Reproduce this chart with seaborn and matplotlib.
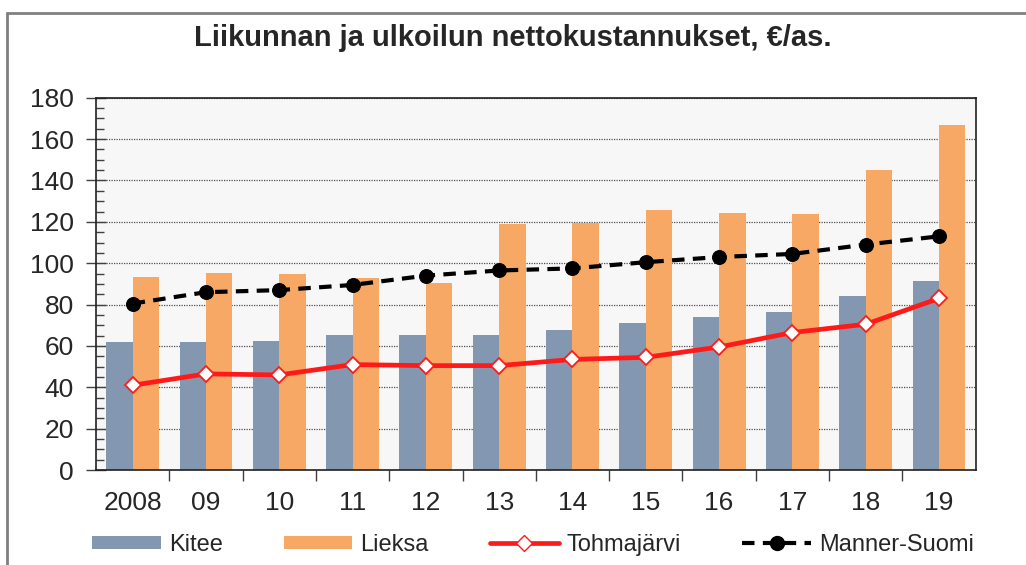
import numpy as np
import pandas as pd
import matplotlib
matplotlib.use('Agg')
import matplotlib.pyplot as plt
from matplotlib.lines import Line2D
from matplotlib.patches import Patch
from matplotlib.ticker import MultipleLocator, FixedLocator
import seaborn as sns

# ─── data ──────────────────────────────────────────────────────────────────────
years = ['2008', '09', '10', '11', '12', '13', '14', '15', '16', '17', '18', '19']
kitee = [62, 62, 62.5, 65.5, 65.5, 65.5, 67.5, 71, 74, 76.5, 84, 91.5]
lieksa = [93.5, 95.5, 95, 93, 90.5, 119, 119.5, 125.5, 124.5, 124, 145, 167]
tohmajarvi = [41, 46.5, 46, 51, 50.5, 50.5, 53.5, 54.5, 59.5, 66.5, 70.5, 83]
manner_suomi = [80.5, 86, 87, 89.5, 94, 96.5, 97.5, 100.5, 103, 104.5, 109, 113]

title = 'Liikunnan ja ulkoilun nettokustannukset, €/as.'

c_kitee = '#8497b0'
c_lieksa = '#f6a864'
c_tohma = '#ff1a1a'
c_manner = '#000000'

sns.set_style('ticks')
plt.rcParams['font.family'] = ['Liberation Sans', 'DejaVu Sans']

bars = pd.DataFrame({
    'vuosi': years * 2,
    'arvo': kitee + lieksa,
    'kunta': ['Kitee'] * len(years) + ['Lieksa'] * len(years),
})

fig = plt.figure(figsize=(10.26, 5.65), dpi=100)
ax = fig.add_axes([0.0935, 0.168, 0.8575, 0.659])
ax.set_facecolor('#f7f7f7')

# horizontal dotted grid behind everything
ax.set_axisbelow(True)
ax.yaxis.grid(True, color='#505050', linestyle=(0, (1, 1)), linewidth=0.9)

sns.barplot(data=bars, x='vuosi', y='arvo', hue='kunta', order=years,
            palette=[c_kitee, c_lieksa], width=0.72, saturation=1,
            linewidth=0, legend=False, ax=ax)

pos = np.arange(len(years))
sns.lineplot(x=pos, y=tohmajarvi, ax=ax, color=c_tohma, linewidth=3.4,
             marker='D', markersize=8.5, markerfacecolor='white',
             markeredgecolor=c_tohma, markeredgewidth=1.3, zorder=4)
sns.lineplot(x=pos, y=manner_suomi, ax=ax, color=c_manner, linewidth=3,
             linestyle=(0, (3, 2)), marker='o', markersize=10,
             markerfacecolor=c_manner, markeredgecolor=c_manner, zorder=5)

# axes
ax.set_xlim(-0.5, len(years) - 0.5)
ax.set_ylim(0, 180)
ax.yaxis.set_major_locator(MultipleLocator(20))
ax.yaxis.set_minor_locator(MultipleLocator(5))
ax.tick_params(axis='y', which='major', direction='inout', length=14, width=1,
               labelsize=19, pad=9, color='#404040')
ax.tick_params(axis='y', which='minor', direction='in', length=6, width=1,
               color='#404040')

# labels at category centres, ticks at category boundaries
ax.set_xticks(pos)
ax.set_xticklabels(years)
ax.xaxis.set_minor_locator(FixedLocator(np.arange(0.5, len(years) - 0.5, 1)))
ax.tick_params(axis='x', which='major', length=0, labelsize=19, pad=15)
ax.tick_params(axis='x', which='minor', direction='out', length=8, width=1,
               color='#404040')
ax.set_xlabel('')
ax.set_ylabel('')
for side in ['left', 'right', 'top', 'bottom']:
    ax.spines[side].set_visible(True)
    ax.spines[side].set_color('#202020')
    ax.spines[side].set_linewidth(1.2)

fig.text(0.5, 1 - 38 / 565, title, ha='center', va='center',
         fontsize=21, fontweight='bold')

handles = [
    Patch(facecolor=c_kitee, edgecolor='none', label='Kitee'),
    Patch(facecolor=c_lieksa, edgecolor='none', label='Lieksa'),
    Line2D([], [], color=c_tohma, linewidth=3.4, marker='D', markersize=8.5,
           markerfacecolor='white', markeredgecolor=c_tohma, label='Tohmajärvi'),
    Line2D([], [], color=c_manner, linewidth=3, linestyle=(0, (3, 2)),
           marker='o', markersize=10, label='Manner-Suomi'),
]
fig.legend(handles=handles, loc='center', bbox_to_anchor=(533 / 1026, 1 - 545 / 565),
           ncol=4, frameon=False, fontsize=17, handlelength=2.9,
           handleheight=0.5, handletextpad=0.34, columnspacing=2.6)

# grey frame of the chart area (left and top edges visible)
fig.add_artist(Line2D([7 / 1026, 7 / 1026], [0, 1 - 13 / 565],
                      transform=fig.transFigure, color='#808080', linewidth=2))
fig.add_artist(Line2D([7 / 1026, 1], [1 - 13 / 565, 1 - 13 / 565],
                      transform=fig.transFigure, color='#808080', linewidth=2))

fig.savefig('out.png', dpi=100)
